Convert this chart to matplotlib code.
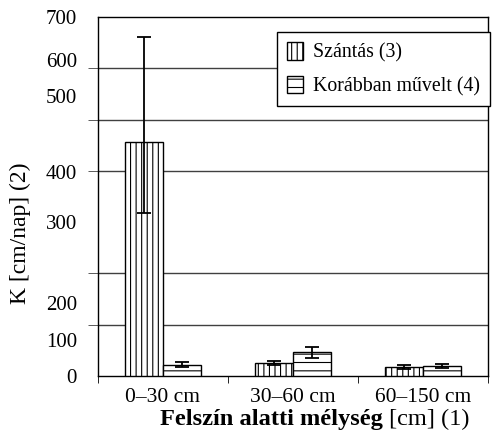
import matplotlib
matplotlib.use("Agg")
import matplotlib.pyplot as plt
import numpy as np

plt.rcParams['font.family'] = ['Liberation Serif', 'DejaVu Serif']
plt.rcParams['hatch.linewidth'] = 0.8

# data
categories = ['0\u201330 cm', '30\u201360 cm', '60\u2013150 cm']
szantas = [456, 25, 18]
szantas_err_low = [138, 4, 4]
szantas_err_high = [205, 4, 4]
korabban = [21, 46, 19]
korabban_err_low = [4, 12, 4]
korabban_err_high = [5, 11, 4]
series_names = ['Szántás (3)', 'Korábban művelt (4)']

# the original places its y tick labels at these (slightly off) heights
ylabel_pos = [0, 70, 142, 300, 398, 546, 616, 700]
ylabel_txt = ['0', '100', '200', '300', '400', '500', '600', '700']

fig = plt.figure(figsize=(4.97, 4.38), dpi=100)
ax = fig.add_axes([0.197, 0.142, 0.785, 0.819])

x = np.arange(len(categories))
w = 0.29
ekw = dict(ecolor='black', elinewidth=1.3, capsize=5, capthick=1.3)
ax.bar(x - w / 2, szantas, w, yerr=[szantas_err_low, szantas_err_high],
       color='white', edgecolor='black', hatch='|||', linewidth=1,
       label=series_names[0], error_kw=ekw, zorder=3)
ax.bar(x + w / 2, korabban, w, yerr=[korabban_err_low, korabban_err_high],
       color='white', edgecolor='black', hatch='--', linewidth=1,
       label=series_names[1], error_kw=ekw, zorder=3)

ax.set_xlim(-0.5, 2.5)
ax.set_ylim(0, 700)

ax.set_xticks(x)
ax.set_xticklabels(categories, fontsize=15.5)
ax.set_xticks([-0.5, 0.5, 1.5, 2.5], minor=True)
ax.tick_params(axis='x', which='major', length=0, pad=9)
ax.tick_params(axis='x', which='minor', length=5, direction='out')

ax.set_yticks(ylabel_pos)
ax.set_yticklabels(ylabel_txt, fontsize=15)
ax.set_yticks(np.arange(0, 701, 100), minor=True)
ax.tick_params(axis='y', which='major', length=0, pad=15)
ax.tick_params(axis='y', which='minor', length=7, direction='out',
               color='#404040')
ax.grid(False)
ax.yaxis.grid(True, which='minor', color='#404040', linewidth=1, zorder=0)

for s in ax.spines.values():
    s.set_linewidth(1)

fig.text(20 / 497, 1 - 233 / 438, 'K [cm/nap] (2)', fontsize=17,
         rotation=90, ha='center', va='center')

# x label: bold part + normal part
t1 = fig.text(160 / 497, 0.03, 'Felszín alatti mélység', fontsize=17.6,
              fontweight='bold')
t2 = fig.text(0.0, 0.03, ' [cm] (1)', fontsize=17.6)
fig.canvas.draw()
r = fig.canvas.get_renderer()
w1 = t1.get_window_extent(r).width / fig.bbox.width
t2.set_x(160 / 497 + w1)

leg = ax.legend(loc='upper right', bbox_to_anchor=(1.005, 0.958), fontsize=14.3,
                frameon=True, fancybox=False, edgecolor='black', framealpha=1,
                handlelength=0.8, handleheight=1.0, handletextpad=0.5,
                borderpad=0.5, borderaxespad=0, labelspacing=0.65)
leg.get_frame().set_linewidth(1)

fig.savefig('out.png', dpi=100)
